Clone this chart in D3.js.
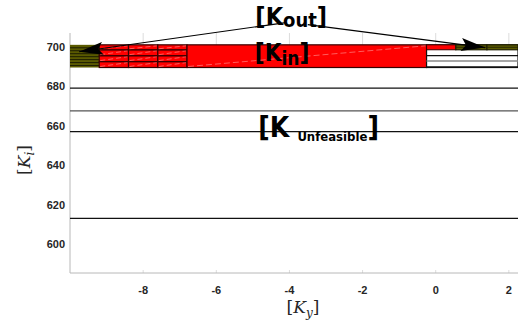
<!DOCTYPE html>
<html>
<head>
<meta charset="utf-8">
<script src="https://d3js.org/d3.v7.min.js"></script>
<style>
  body { margin: 0; background: #fff; }
  text { font-family: "Liberation Sans", Arial, sans-serif; }
</style>
</head>
<body>
<script>
// data
var xTicks = [-8, -6, -4, -2, 0, 2];
var yTicks = [600, 620, 640, 660, 680, 700];
var unfeasibleLevels = [679, 667.5, 657, 613];
var blockY = [689.5, 701];
var cellXEdges = [-9.2, -8.4, -7.6, -6.8];
var cellYEdges = [689.5, 692.5, 695.5, 698.5, 701];
var bigRedX = [-6.8, -0.25];
var oliveLeft = [-10, -9.2];
var oliveLines = [699.5, 698, 696.5, 695, 693.5, 692, 690.5];
var stripRedX = [-0.25, 0.55];
var oliveRightX = [0.55, 1.4, 2.25];
var stripY = [698.5, 701];
var whiteLines = [695.5, 692.8, 689.8];

var width = 518, height = 324;
var margin = { left: 70, right: 0, top: 33, bottom: 51 };

var svg = d3.select("body").append("svg").attr("width", width).attr("height", height);

var x = d3.scaleLinear().domain([-10, 2.25]).range([margin.left, width - margin.right]);
var y = d3.scaleLinear().domain([585.3, 707]).range([height - margin.bottom, margin.top]);

// short top ticks
svg.selectAll(".ttick").data(xTicks).enter().append("line")
  .attr("x1", d => x(d)).attr("x2", d => x(d))
  .attr("y1", y.range()[1]).attr("y2", y.range()[1] + 14)
  .attr("stroke", "#dcdcdc").attr("stroke-width", 1);
svg.selectAll(".btick").data(xTicks).enter().append("line")
  .attr("x1", d => x(d)).attr("x2", d => x(d))
  .attr("y1", y.range()[0]).attr("y2", y.range()[0] - 3)
  .attr("stroke", "#dcdcdc").attr("stroke-width", 1);

// axes lines
svg.append("line").attr("x1", x.range()[0]).attr("x2", x.range()[0])
  .attr("y1", y.range()[1]).attr("y2", y.range()[0]).attr("stroke", "#b8b8b8");
svg.append("line").attr("x1", x.range()[0]).attr("x2", x.range()[1])
  .attr("y1", y.range()[0]).attr("y2", y.range()[0]).attr("stroke", "#b8b8b8");

// unfeasible lines
svg.selectAll(".uline").data(unfeasibleLevels).enter().append("line")
  .attr("x1", x.range()[0]).attr("x2", x.range()[1])
  .attr("y1", d => y(d)).attr("y2", d => y(d))
  .attr("stroke", (d, i) => i == 1 ? "#555" : "#111").attr("stroke-width", 1.3);

var g = svg.append("g");

// left olive block
g.append("rect").attr("x", x(oliveLeft[0])).attr("y", y(blockY[1]))
  .attr("width", x(oliveLeft[1]) - x(oliveLeft[0])).attr("height", y(blockY[0]) - y(blockY[1]))
  .attr("fill", "#5a5a00");
g.selectAll(".oline").data(oliveLines).enter().append("line")
  .attr("x1", x(oliveLeft[0])).attr("x2", x(oliveLeft[1]))
  .attr("y1", d => y(d)).attr("y2", d => y(d))
  .attr("stroke", "#1e1e00").attr("stroke-width", 1);

// red cells
for (var i = 0; i < cellXEdges.length - 1; i++) {
  for (var j = 0; j < cellYEdges.length - 1; j++) {
    var cx0 = x(cellXEdges[i]), cx1 = x(cellXEdges[i + 1]);
    var cy0 = y(cellYEdges[j + 1]), cy1 = y(cellYEdges[j]);
    g.append("rect").attr("x", cx0).attr("y", cy0).attr("width", cx1 - cx0).attr("height", cy1 - cy0)
      .attr("fill", "#ff0000").attr("stroke", "#3a0000").attr("stroke-width", 1.2);
    g.append("line").attr("x1", cx0 + 1).attr("y1", cy1 - 1).attr("x2", cx1 - 1).attr("y2", cy0 + 1)
      .attr("stroke", "#ff9a9a").attr("stroke-width", 0.6).attr("stroke-dasharray", "5,3");
  }
}

// big red block
g.append("rect").attr("x", x(bigRedX[0])).attr("y", y(blockY[1]))
  .attr("width", x(bigRedX[1]) - x(bigRedX[0])).attr("height", y(blockY[0]) - y(blockY[1]))
  .attr("fill", "#ff0000").attr("stroke", "#3a0000").attr("stroke-width", 1.2);
g.append("line").attr("x1", x(bigRedX[0]) + 1).attr("y1", y(blockY[0]) - 1)
  .attr("x2", x(bigRedX[1]) - 1).attr("y2", y(blockY[1]) + 1)
  .attr("stroke", "#ff9a9a").attr("stroke-width", 0.6).attr("stroke-dasharray", "6,3");

// right white region
g.append("rect").attr("x", x(stripRedX[0])).attr("y", y(blockY[1]))
  .attr("width", x.range()[1] - x(stripRedX[0])).attr("height", y(blockY[0]) - y(blockY[1]))
  .attr("fill", "#fff").attr("stroke", "#111").attr("stroke-width", 1.2);
g.selectAll(".wline").data(whiteLines).enter().append("line")
  .attr("x1", x(stripRedX[0])).attr("x2", x.range()[1])
  .attr("y1", d => y(d)).attr("y2", d => y(d))
  .attr("stroke", (d, i) => i == 1 ? "#888" : "#111").attr("stroke-width", 1.3);

// right strip
g.append("rect").attr("x", x(stripRedX[0])).attr("y", y(stripY[1]))
  .attr("width", x(stripRedX[1]) - x(stripRedX[0])).attr("height", y(stripY[0]) - y(stripY[1]))
  .attr("fill", "#ff0000").attr("stroke", "#3a0000").attr("stroke-width", 1);
for (var k = 0; k < oliveRightX.length - 1; k++) {
  g.append("rect").attr("x", x(oliveRightX[k])).attr("y", y(stripY[1]))
    .attr("width", x(oliveRightX[k + 1]) - x(oliveRightX[k])).attr("height", y(stripY[0]) - y(stripY[1]))
    .attr("fill", "#5a5a00").attr("stroke", "#1e1e00").attr("stroke-width", 1.2);
}
g.append("line").attr("x1", x(oliveRightX[0])).attr("x2", x(oliveRightX[2]))
  .attr("y1", y((stripY[0] + stripY[1]) / 2)).attr("y2", y((stripY[0] + stripY[1]) / 2))
  .attr("stroke", "#1e1e00").attr("stroke-width", 0.8);

// tick labels
svg.selectAll(".xl").data(xTicks).enter().append("text")
  .attr("x", d => x(d)).attr("y", 294).attr("text-anchor", "middle")
  .attr("font-size", 11).attr("font-weight", "bold").attr("fill", "#262626")
  .text(d => d);
svg.selectAll(".yl").data(yTicks).enter().append("text")
  .attr("x", 65).attr("y", d => y(d) + 4).attr("text-anchor", "end")
  .attr("font-size", 11).attr("font-weight", "bold").attr("fill", "#262626")
  .text(d => d);

// axis titles
var xt = svg.append("text").attr("x", 303).attr("y", 313).attr("text-anchor", "middle")
  .attr("font-size", 17).style("font-family", "'DejaVu Serif', 'Liberation Serif', serif").attr("fill", "#262626");
xt.append("tspan").text("[");
xt.append("tspan").attr("font-style", "italic").text("K");
xt.append("tspan").attr("font-style", "italic").attr("font-size", 12).attr("dy", 4).text("y");
xt.append("tspan").attr("dy", -4).text("]");

var yt = svg.append("text").attr("transform", "translate(30,160) rotate(-90)").attr("text-anchor", "middle")
  .attr("font-size", 17).style("font-family", "'DejaVu Serif', 'Liberation Serif', serif").attr("fill", "#262626");
yt.append("tspan").text("[");
yt.append("tspan").attr("font-style", "italic").text("K");
yt.append("tspan").attr("font-style", "italic").attr("font-size", 12).attr("dy", 4).text("i");
yt.append("tspan").attr("dy", -4).text("]");

// annotations
var arrows = [
  { from: [-4.1, 712.3], to: [-9.75, 697.5] },
  { from: [-3.5, 711.2], to: [1.35, 699.6] }
];
svg.append("defs").append("marker").attr("id", "ah").attr("viewBox", "0 0 10 10")
  .attr("refX", 10).attr("refY", 5).attr("markerWidth", 24).attr("markerHeight", 13)
  .attr("preserveAspectRatio", "none")
  .attr("markerUnits", "userSpaceOnUse").attr("orient", "auto")
  .append("path").attr("d", "M0,0 L10,5 L0,10 L2,5 Z").attr("fill", "#000");
svg.selectAll(".arr").data(arrows).enter().append("line")
  .attr("x1", d => x(d.from[0])).attr("y1", d => y(d.from[1]))
  .attr("x2", d => x(d.to[0])).attr("y2", d => y(d.to[1]))
  .attr("stroke", "#000").attr("stroke-width", 1.2).attr("marker-end", "url(#ah)");

var fam = "'DejaVu Sans Condensed', 'DejaVu Sans', sans-serif";
var ko = svg.append("text").attr("x", x(-3.95)).attr("y", 25).attr("text-anchor", "middle")
  .attr("font-size", 25).attr("font-weight", "bold").style("font-family", fam).style("font-stretch", "condensed").attr("fill", "#000");
ko.append("tspan").text("[K");
ko.append("tspan").attr("font-size", 20).attr("dy", 2).text("out");
ko.append("tspan").attr("dy", -2).text("]");

var ki = svg.append("text").attr("x", x(-4.2)).attr("y", y(692.8)).attr("text-anchor", "middle")
  .attr("font-size", 24).attr("font-weight", "bold").style("font-family", fam).style("font-stretch", "condensed").attr("fill", "#000");
ki.append("tspan").text("[K");
ki.append("tspan").attr("font-size", 19).attr("dy", 4).text("in");
ki.append("tspan").attr("dy", -4).text("]");

var ku = svg.append("text").attr("x", x(-4.85)).attr("y", y(654.5))
  .attr("font-size", 28).attr("font-weight", "bold").style("font-family", fam).style("font-stretch", "condensed").attr("fill", "#000");
ku.append("tspan").text("[K");
ku.append("tspan").attr("font-size", 13).attr("dx", 8).attr("dy", 4).text("Unfeasible");
ku.append("tspan").attr("dy", -4).text("]");
</script>
</body>
</html>
